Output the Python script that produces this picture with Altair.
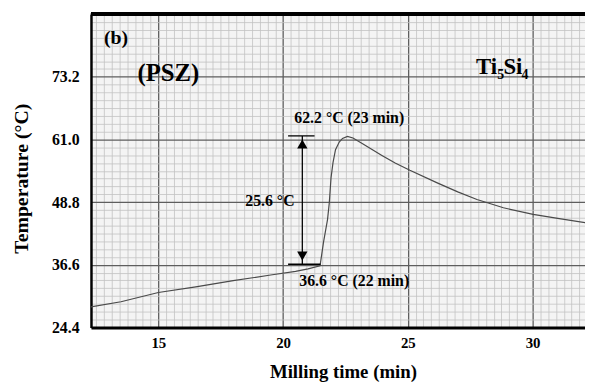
import altair as alt
import pandas as pd

# ---- data ----
time_min = [12.3, 13.5, 15.0, 16.5, 18.0, 19.5, 20.5, 21.0, 21.48, 21.62, 21.78, 21.85,
            21.92, 22.0, 22.1, 22.25, 22.38, 22.58, 22.8, 23.17, 23.96, 24.49, 25.08,
            26.2, 27.0, 27.77, 28.83, 30.02, 31.07, 32.1]
temp_c = [28.4, 29.4, 31.2, 32.3, 33.5, 34.6, 35.3, 35.8, 36.4, 41.0, 45.4, 48.6,
          53.5, 56.5, 59.0, 60.5, 61.2, 61.6, 61.3, 60.2, 57.9, 56.4, 55.0,
          52.5, 50.8, 49.3, 47.7, 46.4, 45.6, 44.8]

x_major = [15, 20, 25, 30]
y_major = [24.4, 36.6, 48.8, 61.0, 73.2]
x_domain = [12.3, 32.1]
y_domain = [24.4, 85.4]

# annotation texts (centered)
note_text = ["(b)", "(PSZ)", "62.2 °C (23 min)", "25.6 °C", "36.6 °C (22 min)"]
note_t = [13.3, 15.4, 22.65, 19.47, 22.85]
note_T = [80.7, 74.0, 65.1, 49.1, 33.5]
note_fs = [20, 25, 16, 16, 16]

# Ti5Si4 label pieces (left aligned)
chem_text = ["Ti", "5", "Si", "4"]
chem_t = [27.73, 28.58, 28.83, 29.55]
chem_T = [73.7, 72.8, 73.7, 72.8]
chem_fs = [23, 14, 23, 14]

# arrow between 36.6 and 62.2
arrow_t = 20.77
arrow_top = 61.7
arrow_bot = 36.7
cap_t = [20.2, 21.26]
cap_t_bot = [20.2, 21.5]

# ---- grid values (graph paper) ----
x_minor = [15 + k * 5 / 16 for k in range(-8, 56)]
x_minor = [v for v in x_minor if x_domain[0] <= v <= x_domain[1]]
y_minor = [24.4 + k * 12.2 / 8 for k in range(0, 41)]

FONT = "Liberation Serif"
xtest = "abs((datum.value - 15) / 5 - round((datum.value - 15) / 5)) < 0.01"
ytest = "abs((datum.value - 24.4) / 12.2 - round((datum.value - 24.4) / 12.2)) < 0.01"

df = pd.DataFrame({"t": time_min, "T": temp_c})

x_axis = alt.Axis(
    values=x_minor, tickCount=500, grid=True, ticks=False,
    gridColor={"condition": {"test": xtest, "value": "#5e5e5e"}, "value": "#c2c2c2"},
    gridWidth={"condition": {"test": xtest, "value": 1.3}, "value": 0.8},
    labelExpr=f"({xtest}) ? format(datum.value, 'd') : ''",
    labelFont=FONT, labelFontSize=15, labelFontWeight="bold", labelColor="black",
    labelPadding=8, labelOverlap=False, labelFlush=False,
    domainColor="black", domainWidth=3,
    title="Milling time (min)", titleFont=FONT, titleFontSize=19, titleFontWeight="bold",
    titleColor="black", titleX=255, titleY=45, titleAlign="center", titleBaseline="middle",
)
y_axis = alt.Axis(
    values=y_minor, tickCount=500, grid=True, ticks=False,
    gridColor={"condition": {"test": ytest, "value": "#5e5e5e"}, "value": "#c2c2c2"},
    gridWidth={"condition": {"test": ytest, "value": 1.3}, "value": 0.8},
    labelExpr=f"(({ytest}) && datum.value < 80) ? format(datum.value, '.1f') : ''",
    labelFont=FONT, labelFontSize=16, labelFontWeight="bold", labelColor="black",
    labelPadding=12, labelOverlap=False, labelFlush=False,
    domainColor="black", domainWidth=2.5,
    title="Temperature (°C)", titleFont=FONT, titleFontSize=20, titleFontWeight="bold",
    titleColor="black", titleX=-70, titleY=166, titleAngle=270,
    titleAlign="center", titleBaseline="middle",
)

xs = alt.Scale(domain=x_domain, nice=False, zero=False)
ys = alt.Scale(domain=y_domain, nice=False, zero=False)

line = alt.Chart(df).mark_line(color="#4a4a4a", strokeWidth=1.2).encode(
    x=alt.X("t:Q", scale=xs, axis=x_axis),
    y=alt.Y("T:Q", scale=ys, axis=y_axis),
)

top_border = alt.Chart(df).mark_rule(color="black", strokeWidth=3).encode(
    y=alt.datum(y_domain[1])
)

notes = alt.Chart(pd.DataFrame({"label": note_text, "t": note_t, "T": note_T, "fs": note_fs})).mark_text(
    font=FONT, fontWeight="bold", color="black", align="center", baseline="middle"
).encode(x="t:Q", y="T:Q", text="label:N", size=alt.Size("fs:Q", scale=None, legend=None))

chem = alt.Chart(pd.DataFrame({"label": chem_text, "t": chem_t, "T": chem_T, "fs": chem_fs})).mark_text(
    font=FONT, fontWeight="bold", color="black", align="left", baseline="alphabetic"
).encode(x="t:Q", y="T:Q", text="label:N", size=alt.Size("fs:Q", scale=None, legend=None))

arrow_df = pd.DataFrame({"t": [arrow_t], "T": [arrow_top], "T2": [arrow_bot]})
arrow_line = alt.Chart(arrow_df).mark_rule(color="black", strokeWidth=1.3).encode(
    x="t:Q", y="T:Q", y2="T2:Q"
)
caps_df = pd.DataFrame({"t": [cap_t[0], cap_t_bot[0]], "t2": [cap_t[1], cap_t_bot[1]],
                        "T": [arrow_top, arrow_bot]})
caps = alt.Chart(caps_df).mark_rule(color="black", strokeWidth=1.3).encode(
    x="t:Q", x2="t2:Q", y="T:Q"
)
heads_df = pd.DataFrame({"t": [arrow_t, arrow_t], "T": [arrow_top - 1.6, arrow_bot + 1.6],
                         "shape": ["triangle-up", "triangle-down"]})
heads = alt.Chart(heads_df).mark_point(filled=True, color="black", size=110, opacity=1).encode(
    x="t:Q", y="T:Q",
    shape=alt.Shape("shape:N", scale=None, legend=None),
)

chart = alt.layer(line, top_border, arrow_line, caps, heads, notes, chem).properties(
    width=500, height=317,
    autosize=alt.AutoSizeParams(type="none"),
    padding={"left": 84, "top": 4, "right": 0, "bottom": 54},
    background="white",
).configure_view(fill="#f4f4f4", strokeWidth=0)

chart.save("out.html", embed_options={"renderer": "svg", "actions": False})
